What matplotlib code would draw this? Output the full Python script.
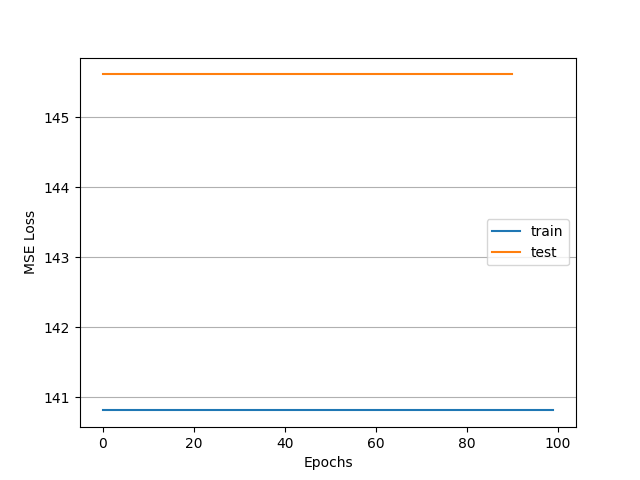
import numpy as np
import matplotlib
matplotlib.use('Agg')
import matplotlib.pyplot as plt

# Flat loss curves
train_epochs = np.arange(0, 100)
train_loss = [140.815] * len(train_epochs)
test_epochs = np.arange(0, 91)
test_loss = [145.61] * len(test_epochs)

fig, ax = plt.subplots(figsize=(6.4, 4.8), dpi=100)
ax.plot(train_epochs, train_loss, label='train')
ax.plot(test_epochs, test_loss, label='test')
ax.set_xlabel('Epochs')
ax.set_ylabel('MSE Loss')
ax.grid(axis='y')
ax.legend(loc='center right')

fig.savefig('out.png')
